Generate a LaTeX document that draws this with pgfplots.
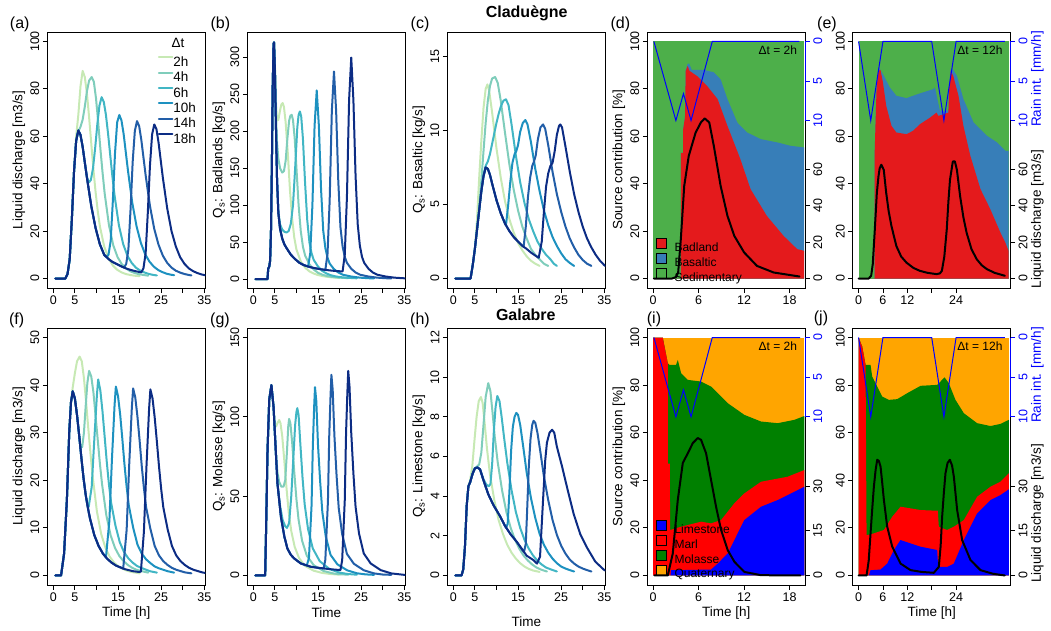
\documentclass[border=0pt]{standalone}
\usepackage{pgfplots}
\pgfplotsset{compat=1.18}
\usepackage{fontspec}
\setmainfont{Liberation Sans}
\definecolor{c2}{HTML}{C7E9B4}
\definecolor{c4}{HTML}{7FCDBB}
\definecolor{c6}{HTML}{41B6C4}
\definecolor{c10}{HTML}{1D91C0}
\definecolor{c14}{HTML}{225EA8}
\definecolor{c18}{HTML}{0C2C84}
\definecolor{cRed}{HTML}{E41A1C}
\definecolor{cBlue}{HTML}{377EB8}
\definecolor{cGreen}{HTML}{4DAF4A}
\definecolor{gBlue}{HTML}{0000FF}
\definecolor{gRed}{HTML}{FF0000}
\definecolor{gGreen}{HTML}{008000}
\definecolor{gOrange}{HTML}{FFA500}
\newcommand{\fT}{\fontsize{12.5}{14}\selectfont}
\newcommand{\fL}{\fontsize{13.5}{15}\selectfont}
\newcommand{\fD}{\fontsize{12}{14}\selectfont}
\newcommand{\fP}{\fontsize{16}{18}\selectfont}
\pgfplotsset{
  base/.style={scale only axis, width=158pt,
    axis line style={line width=0.8pt},
    tick align=outside, major tick length=4.5pt,
    every tick/.style={black, line width=0.8pt},
    tick pos=left, scaled ticks=false,
    tick label style={font=\fT},
    /pgf/number format/assume math mode=true,
    yticklabel style={rotate=90, anchor=south},
    label style={font=\fL},
    ylabel style={at={(axis description cs:-0.18,0.5)}, anchor=center},
    xlabel style={at={(axis description cs:0.5,-0.109)}, anchor=center},
  },
  toprow/.style={base, height=256pt, at={(#1,342pt)}, anchor=south west},
  botrow/.style={base, height=257pt, at={(#1,45pt)}, anchor=south west},
  hyd/.style={xmin=-1.39, xmax=35.23, xtick={0,5,...,35}, xticklabels={0,5,,15,,25,,35}},
  ln/.style={line width=2pt, line cap=round, line join=round},
  rq/.style={hide x axis, axis y line*=right, ytick pos=right, yticklabel pos=right,
    axis line style={draw=none}, yticklabel style={anchor=north}},
  rr/.style={hide x axis, axis y line*=right, ytick pos=right, yticklabel pos=right,
    axis line style={draw=none}, yticklabel style={anchor=north, blue},
    every tick/.append style={blue}, ymin=-1.2, ymax=31.2, y dir=reverse, ytick={0,5,10}, clip=false},
  sqleg/.style={reverse legend, legend cell align=left,
    legend style={at={(rel axis cs:0.055,0.009)}, anchor=south west, draw=none, fill=none, inner sep=0pt,
      font=\fD, row sep=-2.2pt, nodes={inner sep=1.75pt, text height=8.7pt, text depth=2.5pt},
      /tikz/every odd column/.append style={column sep=6pt}},
    legend image code/.code={\draw[##1, draw=black, line width=0.6pt] (0pt,-0.5pt) rectangle (10pt,9.5pt);}},
}
\begin{document}
\begin{tikzpicture}[x=1pt,y=1pt]
\useasboundingbox (0,0) rectangle (1051,630);
% titles and panel labels
\node[font=\bfseries\fP] at (526.7,616.7) {Claduègne};
\node[font=\bfseries\fP] at (525.8,315) {Galabre};
\node[font=\fP] at (19.7,605.5) {(a)};
\node[font=\fP] at (220.3,605.5) {(b)};
\node[font=\fP] at (420,605.5) {(c)};
\node[font=\fP] at (620.3,605.5) {(d)};
\node[font=\fP] at (827,605.5) {(e)};
\node[font=\fP] at (16.7,310) {(f)};
\node[font=\fP] at (220,310) {(g)};
\node[font=\fP] at (420,310) {(h)};
\node[font=\fP] at (654,311) {(i)};
\node[font=\fP] at (821,312) {(j)};
\node[font=\fL] at (178,587) {Δt};

% ---------------- (a)
\begin{axis}[toprow=47.3pt, hyd, ymin=-4, ymax=104, ytick={0,20,...,100},
  ylabel={Liquid discharge [m3/s]}, legend cell align=left,
  legend style={at={(rel axis cs:0.698,0.910)}, anchor=north west, draw=none, fill=none, inner sep=0pt,
    font=\fL, row sep=2pt, nodes={inner sep=2pt, text height=9.3pt, text depth=0pt},
    /tikz/every odd column/.append style={column sep=-2pt}},
  legend image code/.code={\draw[#1] (0pt,4.5pt) -- (13.5pt,4.5pt);}]
\addplot[c2, ln] coordinates {(0.5,0) (2.8,0) (3.3,1.9) (3.8,8.1) (4.3,25) (4.8,45) (5.3,60) (5.8,69) (6.3,81) (6.8,87.6) (7.3,85) (7.8,78) (8.3,68) (8.8,57) (9.3,46) (9.8,36.5) (10.3,28.5) (10.8,22) (11.8,13.5) (12.8,8.5) (13.8,5.5) (14.8,3.7) (15.8,2.6) (16.8,1.9) (17.8,1.5) (18.8,1.2) (20,1.0)};
\addplot[c4, ln] coordinates {(0.5,0) (2.8,0) (3.3,1.9) (3.8,8.1) (4.3,25) (4.8,45) (5.3,58.1) (5.8,62) (6.3,64) (6.8,67) (7.3,72.5) (7.8,79) (8.3,83.5) (8.9,85) (9.4,83) (9.9,76) (10.4,66) (10.9,55) (11.4,45) (11.9,36) (12.9,22.5) (13.9,14) (14.9,9) (15.9,6) (16.9,4.2) (17.9,3.0) (18.9,2.3) (19.9,1.8) (20.9,1.5) (22,1.2)};
\addplot[c6, ln] coordinates {(0.5,0) (2.8,0) (3.3,1.9) (3.8,8.1) (4.3,25) (4.8,45) (5.3,58.1) (5.8,62.5) (6.3,60.6) (6.8,55.6) (7.3,49) (7.8,43) (8.2,40.5) (8.7,41.5) (9.2,46.5) (9.7,55) (10.2,65) (10.7,73) (11.2,76.5) (11.7,74.5) (12.2,69) (12.7,61) (13.2,52) (13.7,43) (14.2,35) (15.2,22.5) (16.2,14.5) (17.2,9.5) (18.2,6.5) (19.2,4.5) (20.2,3.3) (21.2,2.5) (22.2,1.9) (23.2,1.5) (24,1.3)};
\addplot[c10, ln] coordinates {(0.5,0) (2.8,0) (3.3,1.9) (3.8,8.1) (4.3,25) (4.8,45) (5.3,58.1) (5.8,62.5) (6.3,60.6) (6.8,55.6) (7.8,42.5) (8.8,30.6) (9.8,21.3) (10.8,14.4) (11.8,10.0) (12.3,9.0) (12.8,10.1) (13.3,15.9) (13.8,32.7) (14.3,52.8) (14.8,65.9) (15.3,69) (15.8,66.7) (16.3,61) (17.3,45.6) (18.3,32) (19.3,22) (20.3,15) (21.3,10.2) (22.3,7.1) (23.3,5.0) (24.3,3.6) (25.3,2.7) (26.3,2.0) (27.3,1.6) (28,1.4)};
\addplot[c14, ln] coordinates {(0.5,0) (2.8,0) (3.3,1.9) (3.8,8.1) (4.3,25) (4.8,45) (5.3,58.1) (5.8,62.5) (6.3,60.6) (6.8,55.6) (7.8,42.5) (8.8,30.6) (9.8,21.3) (10.8,14.4) (11.8,10.0) (12.8,8.2) (13.8,6.9) (14.8,6.0) (15.8,5.1) (16.4,4.6) (16.9,6.2) (17.4,12.2) (17.9,29) (18.4,49.3) (18.9,62.3) (19.4,66.4) (19.9,64.3) (20.4,58.5) (21.4,43.6) (22.4,30.6) (23.4,20.9) (24.4,14.2) (25.4,9.6) (26.4,6.6) (27.4,4.6) (28.4,3.3) (29.4,2.5) (30.4,1.9) (31.4,1.5) (32,1.3)};
\addplot[c18, ln] coordinates {(0.5,0) (2.8,0) (3.3,1.9) (3.8,8.1) (4.3,25) (4.8,45) (5.3,58.1) (5.8,62.5) (6.3,60.6) (6.8,55.6) (7.8,42.5) (8.8,30.6) (9.8,21.3) (10.8,14.4) (11.8,10.0) (12.8,8.2) (13.8,6.9) (14.8,6.0) (15.8,5.1) (16.8,4.3) (17.8,3.7) (18.8,3.2) (19.8,2.8) (20.4,2.6) (20.9,4.4) (21.4,10.6) (21.9,27.6) (22.4,47.6) (22.9,60.8) (23.4,65) (23.9,63.1) (24.4,57.3) (25.4,42.4) (26.4,29.6) (27.4,20) (28.4,13.5) (29.4,9.0) (30.4,6.2) (31.4,4.3) (32.4,3.1) (33.4,2.3) (34.4,1.7) (35.4,1.3) (36,1.1)};
\legend{2h,4h,6h,10h,14h,18h}
\end{axis}

% ---------------- (b)
\begin{axis}[toprow=247.3pt, hyd, ymin=-12, ymax=334, ytick={0,50,...,300},
  ylabel={Q\textsubscript{s}: Badlands [kg/s]}]
\addplot[c2, ln] coordinates {(0.5,0) (3.3,0) (3.45,14) (3.7,17) (3.9,25) (4.1,65) (4.3,150) (4.5,260) (4.7,318) (4.8,320) (5.0,292) (5.25,240) (5.5,215) (5.8,215) (6.2,228) (6.5,236) (6.8,238) (7.1,233) (7.5,212) (8.0,170) (8.5,120) (9.0,82) (9.5,56) (10.0,40) (11.0,24) (12.0,15.5) (13.0,10.5) (14.0,7.5) (15.0,5.5) (16.0,4.2) (17.0,3.2) (18.0,2.5) (19.0,2) (20,1.6)};
\addplot[c4, ln] coordinates {(0.5,0) (3.3,0) (3.45,14) (3.7,17) (3.9,25) (4.1,65) (4.3,150) (4.5,260) (4.7,318) (4.8,320) (5.0,290) (5.25,225) (5.5,185) (5.8,163) (6.2,150) (6.7,144) (7.1,146) (7.5,160) (7.9,190) (8.3,214) (8.6,221) (8.9,222) (9.2,215) (9.6,190) (10.0,150) (10.5,100) (11.0,65) (11.5,44) (12.0,32) (13.0,20) (14.0,13) (15.0,8.5) (16.0,6) (17.0,4.3) (18.0,3.2) (19.0,2.5) (20.0,2.0) (22,1.3)};
\addplot[c6, ln] coordinates {(0.5,0) (3.3,0) (3.45,14) (3.7,17) (3.9,25) (4.1,65) (4.3,150) (4.5,260) (4.7,318) (4.8,320) (5.0,285) (5.25,205) (5.5,135) (5.8,92) (6.2,74) (6.7,67) (7.2,64) (7.7,63) (8.2,65) (8.7,75) (9.2,100) (9.7,150) (10.2,205) (10.5,222) (10.8,226.6) (11.1,220) (11.5,190) (12.0,130) (12.5,80) (13.0,50) (13.5,35) (14.0,26) (15.0,17) (16.0,11) (17.0,7.5) (18.0,5.2) (19.0,3.8) (20.0,2.8) (22,1.7) (24,1.1)};
\addplot[c10, ln] coordinates {(0.5,0) (3.3,0) (3.45,14) (3.7,17) (3.9,25) (4.1,65) (4.3,150) (4.5,260) (4.7,318) (4.8,320) (5.0,285) (5.25,205) (5.5,135) (5.8,90) (6.2,68) (6.7,55) (7.2,47) (7.7,42) (8.7,33) (9.7,27) (10.7,22) (11.7,19) (12.7,17) (13.2,35) (13.7,100) (14.2,207) (14.7,255) (15.2,207) (15.7,122) (16.2,66) (16.7,42) (17.2,29) (17.7,21) (18.7,13.5) (19.7,9) (20.7,6) (22.7,3.5) (24.7,2) (26.7,1.2) (28,1)};
\addplot[c14, ln] coordinates {(0.5,0) (3.3,0) (3.45,14) (3.7,17) (3.9,25) (4.1,65) (4.3,150) (4.5,260) (4.7,318) (4.8,320) (5.0,285) (5.25,205) (5.5,135) (5.8,90) (6.2,68) (6.7,55) (7.2,47) (7.7,42) (8.7,33) (9.7,27) (10.7,22) (11.7,19) (12.7,17) (13.7,15.5) (14.7,14.3) (15.7,13.3) (16.7,12.5) (17.2,34) (17.7,106) (18.2,227) (18.7,280.6) (19.2,227) (19.7,132) (20.2,70) (20.7,44) (21.2,30) (21.7,22) (22.7,14) (23.7,9) (24.7,6) (26.7,3.5) (28.7,2) (30.7,1.2) (32,1)};
\addplot[c18, ln] coordinates {(0.5,0) (3.3,0) (3.45,14) (3.7,17) (3.9,25) (4.1,65) (4.3,150) (4.5,260) (4.7,318) (4.8,320) (5.0,285) (5.25,205) (5.5,135) (5.8,90) (6.2,68) (6.7,55) (7.2,47) (7.7,42) (8.7,33) (9.7,27) (10.7,22) (11.7,19) (12.7,17) (13.7,15.5) (14.7,14.3) (15.7,13.3) (16.7,12.5) (17.7,11.8) (18.7,11.2) (19.7,10.7) (20.7,10.5) (21.2,33) (21.7,111) (22.2,242) (22.7,299.5) (23.2,242) (23.7,140) (24.2,74) (24.7,45) (25.2,30) (25.7,22) (26.7,14) (27.7,9) (28.7,6) (30.7,3.5) (32.7,2) (34.7,1.2) (36,1)};
\end{axis}

% ---------------- (c)
\begin{axis}[toprow=447.3pt, hyd, ymin=-0.64, ymax=16.64, ytick={0,5,10,15},
  ylabel={Q\textsubscript{s}: Basaltic [kg/s]}]
\addplot[c2, ln] coordinates {(0.5,0) (4.0,0) (4.5,0.9) (5.0,2.0) (5.5,4.0) (6.0,6.8) (6.5,9.3) (7.0,11.5) (7.5,12.8) (7.9,13.1) (8.3,12.7) (9.0,11.2) (10,8.8) (11,6.8) (12,5.2) (13,4.0) (14,3.1) (15,2.4) (16,1.9) (17,1.5) (18,1.2) (19,1.0) (20,0.85)};
\addplot[c4, ln] coordinates {(0.5,0) (4.0,0) (4.5,0.9) (5.0,2.0) (5.5,3.3) (6.0,4.8) (6.5,6.6) (7.0,8.6) (7.5,10.5) (8.0,12.0) (8.5,13.0) (9.0,13.5) (9.7,13.6) (10.3,13.2) (11,12.0) (12,9.8) (13,7.7) (14,6.0) (15,4.6) (16,3.5) (17,2.7) (18,2.0) (19,1.6) (20,1.3) (21,1.0) (22,0.85)};
\addplot[c6, ln] coordinates {(0.5,0) (4.0,0) (4.5,0.9) (5.0,2.0) (5.5,3.3) (6.0,4.6) (6.5,5.9) (7.0,7.0) (7.5,7.6) (8.0,7.9) (8.5,8.4) (9.0,9.1) (9.5,9.8) (10,10.5) (10.5,11.1) (11,11.6) (11.6,12.0) (12.2,12.1) (12.8,11.7) (13.5,10.4) (14.5,8.3) (15.5,6.5) (16.5,5.1) (17.5,4.0) (18.5,3.2) (19.5,2.5) (20.5,2.0) (21.5,1.6) (22.5,1.3) (23.3,1.0) (24,0.85)};
\addplot[c10, ln] coordinates {(0.5,0) (4.0,0) (4.5,0.9) (5.0,2.0) (5.5,3.3) (6.0,4.6) (6.5,5.9) (7.0,6.9) (7.5,7.5) (8.0,7.4) (8.5,7.0) (9.0,6.4) (10,5.3) (11,4.4) (12,3.7) (12.2,3.6) (12.7,4.9) (13.2,6.5) (13.7,7.8) (14.2,8.4) (14.6,8.6) (15.0,9.0) (15.5,9.9) (16.1,10.5) (16.7,10.7) (17.2,10.4) (18,9.2) (19,7.4) (20,5.9) (21,4.6) (22,3.6) (23,2.8) (24,2.2) (25,1.7) (26,1.3) (27,1.05) (28,0.85)};
\addplot[c14, ln] coordinates {(0.5,0) (4.0,0) (4.5,0.9) (5.0,2.0) (5.5,3.3) (6.0,4.6) (6.5,5.9) (7.0,6.9) (7.5,7.5) (8.0,7.4) (8.5,7.0) (9.0,6.4) (10,5.3) (11,4.4) (12,3.7) (13,3.2) (14,2.8) (15,2.5) (16,2.2) (16.3,2.15) (16.8,3.5) (17.3,5.5) (17.8,6.8) (18.3,7.6) (18.7,7.9) (19.1,8.3) (19.6,9.4) (20.2,10.2) (20.8,10.4) (21.3,10.1) (22,9) (23,7.2) (24,5.7) (25,4.5) (26,3.5) (27,2.7) (28,2.1) (29,1.6) (30,1.25) (31,1.0) (32,0.85)};
\addplot[c18, ln] coordinates {(0.5,0) (4.0,0) (4.5,0.9) (5.0,2.0) (5.5,3.3) (6.0,4.6) (6.5,5.9) (7.0,6.9) (7.5,7.5) (8.0,7.4) (8.5,7.0) (9.0,6.4) (10,5.3) (11,4.4) (12,3.7) (13,3.2) (14,2.8) (15,2.5) (16,2.2) (17,2.0) (18,1.75) (19,1.55) (19.8,1.4) (20.5,2.5) (21,4.5) (21.5,6.2) (22,7.1) (22.5,7.6) (23,7.8) (23.5,8.6) (24,9.7) (24.5,10.3) (24.8,10.4) (25.2,10.2) (26,8.9) (27,7.2) (28,5.7) (29,4.5) (30,3.5) (31,2.7) (32,2.1) (33,1.6) (34,1.2) (35,0.9) (36,0.7)};
\end{axis}

% ---------------- (d)
\begin{axis}[toprow=647.3pt, xmin=-0.77, xmax=20.07, ymin=-4, ymax=104,
  xtick={0,6,12,18}, ytick={0,20,...,100}, ylabel={Source contribution [\%]}, sqleg]
\addplot[fill=cGreen, draw=none] coordinates {(0,0) (0,100) (19.9,100) (19.9,0)} -- cycle;
\addplot[fill=cBlue, draw=none] coordinates {(0,0) (3.65,0) (3.66,53) (3.95,53) (3.96,63) (4.1,66) (4.2,68) (4.3,88) (4.55,90.5) (4.75,90.7) (5.1,88) (5.4,88) (6.7,88) (8.0,87) (8.9,84) (9.8,75.7) (11.1,65.8) (12.4,61.6) (14.2,58.8) (16.4,57.4) (18.1,56) (19.9,55.3) (19.9,0)} -- cycle;
\addplot[fill=cRed, draw=none] coordinates {(0,0) (3.65,0) (3.66,53) (3.95,53) (3.96,63) (4.1,66) (4.2,68) (4.3,87.6) (4.55,89.7) (4.8,87.6) (5.8,85.4) (7.1,81.3) (8.5,75.7) (9.8,64.4) (11.5,50.4) (12.85,37.7) (15.0,26.4) (17.2,18) (19.0,12.4) (19.9,11.7) (19.9,0)} -- cycle;
\legend{Sedimentary,Basaltic,Badland}
\node[anchor=east, font=\fD] at (rel axis cs:0.97,0.93) {Δt = 2h};
\end{axis}
\begin{axis}[toprow=647.3pt, xmin=-0.77, xmax=20.07, ymin=-5.2, ymax=135.2, rq, ytick={0,20,40,60}]
\addplot[black, ln] coordinates {(0.1,0) (2.5,0) (3.0,0.8) (3.3,3.3) (3.65,21.6) (4.1,50.8) (4.7,67.3) (5.6,80) (6.3,85.6) (6.8,87.8) (7.4,85.6) (8.0,72.8) (8.9,50.8) (9.8,34.4) (10.7,23.4) (12.0,14.3) (13.7,6.9) (15.9,3.3) (19.3,1.1)};
\end{axis}
\begin{axis}[toprow=647.3pt, xmin=-0.77, xmax=20.07, rr]
\addplot[blue, line width=1pt] coordinates {(0.1,0) (3,10) (4,6.6) (5,10) (7.8,0) (19.3,0)};
\addplot[blue, line width=0.8pt] coordinates {(20.07,0) (20.07,10)};
\end{axis}

% ---------------- (e)
\begin{axis}[toprow=852.7pt, xmin=-1.44, xmax=37.44, ymin=-4, ymax=104,
  xtick={0,6,12,18,24}, xticklabels={0,6,12,,24}, ytick={0,20,...,100}]
\addplot[fill=cGreen, draw=none] coordinates {(0,0) (0,100) (36.9,100) (36.9,0)} -- cycle;
\addplot[fill=cBlue, draw=none] coordinates {(0,0) (3.95,0) (3.96,53) (4.4,78.5) (4.8,88) (5.0,89) (6.0,86.2) (7.7,80.6) (9.3,77.1) (11.8,76.1) (13.4,77.1) (15.1,78.1) (18.4,79.9) (18.8,80.6) (19.4,75.7) (20.0,71) (20.9,70.5) (22.1,71) (22.3,82) (22.6,87.6) (23.2,88.3) (24.2,85.5) (25.8,75.7) (28.3,65.8) (31.6,60.2) (34.1,57.4) (36.1,53.9) (36.9,53.9) (36.9,0)} -- cycle;
\addplot[fill=cRed, draw=none] coordinates {(0,0) (3.95,0) (3.96,53) (4.4,78.5) (4.8,87.6) (5.4,88.0) (6.0,82.7) (6.8,72.9) (8.1,64.4) (9.3,61.6) (11.8,60.9) (13.4,62.3) (15.1,65.1) (17.6,67.9) (19.2,70) (19.6,68.6) (20.9,69.3) (22.1,70) (22.3,80) (22.7,87.6) (23.3,85.5) (24.6,77) (25.8,64.4) (27.5,51.8) (30,37.7) (32.4,29.3) (34.9,19.4) (36.1,15.2) (36.9,11.7) (36.9,0)} -- cycle;
\node[anchor=east, font=\fD] at (rel axis cs:0.97,0.93) {Δt = 12h};
\end{axis}
\begin{axis}[toprow=852.7pt, xmin=-1.44, xmax=37.44, ymin=-5.2, ymax=135.2, rq, ytick={0,20,40,60}]
\addplot[black, ln] coordinates {(0,0) (2.5,0) (3.1,1.5) (3.5,8) (3.95,25) (4.5,47) (4.9,56) (5.2,60.5) (5.6,62.4) (6.2,59.6) (6.8,47) (7.4,37) (8.1,28.7) (9.3,17.8) (10.5,12) (11.8,8.7) (13.5,5.8) (15.1,4.2) (17,3.1) (19.2,2.4) (20,2.8) (20.5,4.2) (21.1,12) (21.7,26.9) (22.1,42) (22.5,54.2) (23.2,64.2) (23.7,64.2) (24.2,59.6) (25,45) (25.8,33.5) (26.6,25) (27.8,16) (29.1,10.5) (30.3,7.3) (31.6,5.1) (33.5,3.1) (36,1.5)};
\end{axis}
\begin{axis}[toprow=852.7pt, xmin=-1.44, xmax=37.44, rr]
\addplot[blue, line width=1pt] coordinates {(0,0) (3,10) (6,0) (18,0) (21,10) (24,0) (36,0)};
\addplot[blue, line width=0.8pt] coordinates {(37.44,0) (37.44,10)};
\node[rotate=90, blue, font=\fL] at (rel axis cs:1.168,0.816) {Rain int. [mm/h]};
\node[rotate=90, font=\fL] at (rel axis cs:1.168,0.27) {Liquid discharge [m3/s]};
\end{axis}

% ---------------- (f)
\begin{axis}[botrow=47.3pt, hyd, ymin=-2, ymax=52, ytick={0,10,...,50},
  ylabel={Liquid discharge [m3/s]}, xlabel={Time [h]}]
\addplot[c2, ln] coordinates {(0.5,0) (1.8,0) (2.5,4.6) (3.15,15.9) (3.7,30.2) (4.1,36.5) (4.5,39.5) (5.0,42.5) (5.5,45) (6.1,46) (6.6,45) (7.1,41.5) (7.6,36.5) (8.1,31) (8.6,25.8) (9.1,21) (10.1,13.5) (11.1,8.7) (12.1,5.8) (13.1,3.9) (14.1,2.7) (15.1,1.9) (16.1,1.4) (17.1,1.0) (18.1,0.75) (20,0.45)};
\addplot[c4, ln] coordinates {(0.5,0) (1.8,0) (2.5,4.6) (3.15,15.9) (3.7,30.2) (4.1,36.4) (4.5,38.7) (5.0,37.2) (5.5,33.7) (6.0,29.4) (6.3,26.8) (6.7,27) (7.1,30) (7.5,35.5) (7.9,40.5) (8.3,43) (8.8,41.8) (9.3,38.5) (9.8,33.5) (10.3,28.5) (10.8,23.5) (11.3,19.2) (12.3,12.6) (13.3,8.4) (14.3,5.8) (15.3,4.1) (16.3,3.0) (17.3,2.2) (18.3,1.6) (19.3,1.2) (20.3,0.95) (22,0.6)};
\addplot[c6, ln] coordinates {(0.5,0) (1.8,0) (2.5,4.6) (3.15,15.9) (3.7,30.2) (4.1,36.4) (4.5,38.7) (5.0,37.2) (5.5,33.7) (6.0,29.4) (6.5,24.8) (7.0,20.5) (7.5,17.0) (7.8,15.3) (8.2,14.4) (8.9,18.6) (9.5,28.5) (10.1,37.8) (10.4,41.2) (10.9,38.9) (11.4,34.5) (11.9,29.2) (12.4,23.8) (12.9,19.1) (13.4,15.3) (14.4,10.5) (15.4,7.0) (16.4,4.9) (17.4,3.6) (18.4,2.7) (19.4,2.0) (20.4,1.6) (22.4,0.9) (24,0.6)};
\addplot[c10, ln] coordinates {(0.5,0) (1.8,0) (2.5,4.6) (3.15,15.9) (3.7,30.2) (4.1,36.4) (4.5,38.7) (5.0,37.2) (5.5,33.7) (6.0,29.4) (6.5,24.8) (7.0,20.5) (7.5,17.0) (8.0,14.3) (8.5,12.0) (9.5,8.5) (10.5,6.2) (11.5,4.6) (12.2,3.8) (13.0,11.5) (13.6,24.6) (14.2,35.8) (14.5,39.7) (15.0,37.7) (15.5,33.8) (16.0,28.7) (16.5,23.3) (17.0,18.6) (17.5,14.7) (18.5,10.1) (19.5,6.5) (20.5,4.6) (21.5,3.4) (22.5,2.6) (23.5,1.9) (24.5,1.5) (26.5,0.9) (28,0.6)};
\addplot[c14, ln] coordinates {(0.5,0) (1.8,0) (2.5,4.6) (3.15,15.9) (3.7,30.2) (4.1,36.4) (4.5,38.7) (5.0,37.2) (5.5,33.7) (6.0,29.4) (6.5,24.8) (7.0,20.5) (7.5,17.0) (8.0,14.3) (8.5,12.0) (9.5,8.5) (10.5,6.2) (11.5,4.6) (12.5,3.5) (13.5,2.7) (14.5,2.1) (15.5,1.7) (16.2,1.45) (17.0,9.6) (17.6,23.4) (18.2,35.2) (18.5,39.3) (19.0,37.4) (19.5,33.4) (20.0,28.4) (20.5,23.0) (21.0,18.4) (21.5,14.4) (22.5,9.8) (23.5,6.2) (24.5,4.2) (25.5,3.0) (26.5,2.2) (27.5,1.6) (28.5,1.2) (30.5,0.65) (32,0.45)};
\addplot[c18, ln] coordinates {(0.5,0) (1.8,0) (2.5,4.6) (3.15,15.9) (3.7,30.2) (4.1,36.4) (4.5,38.7) (5.0,37.2) (5.5,33.7) (6.0,29.4) (6.5,24.8) (7.0,20.5) (7.5,17.0) (8.0,14.3) (8.5,12.0) (9.5,8.5) (10.5,6.2) (11.5,4.6) (12.5,3.5) (13.5,2.7) (14.5,2.1) (16.5,1.35) (18.5,0.9) (19.8,0.75) (20.3,0.8) (21.0,9.2) (21.6,23) (22.2,35) (22.5,39.1) (23.0,37.2) (23.5,33.2) (24.0,28.2) (24.5,22.9) (25.0,18.2) (25.5,14.3) (26.5,9.7) (27.5,6.2) (28.5,4.2) (29.5,3.0) (30.5,2.2) (31.5,1.6) (32.5,1.2) (34.5,0.65) (36,0.4)};
\end{axis}

% ---------------- (g)
\begin{axis}[botrow=247.3pt, hyd, ymin=-6, ymax=156, ytick={0,50,100,150},
  ylabel={Q\textsubscript{s}: Molasse [kg/s]}, xlabel={Time}]
\addplot[c2, ln] coordinates {(0.5,0) (2.75,0) (2.95,27) (3.3,79) (3.7,111) (4.2,120) (4.7,106) (5.0,96) (5.3,94) (5.6,96) (6.0,98) (6.3,96) (6.7,88) (7.2,72) (7.7,55) (8.2,40) (8.8,28) (9.6,18) (10.6,11) (12,6) (14,3) (16,1.6) (18,0.9) (20,0.5)};
\addplot[c4, ln] coordinates {(0.5,0) (2.75,0) (2.95,27) (3.3,79) (3.7,111) (4.2,120) (4.7,106) (5.2,79) (5.6,65) (6.0,59) (6.5,56) (7.0,56) (7.4,60) (7.8,78) (8.1,94) (8.3,98.7) (8.6,96) (9.0,84) (9.5,65) (10.0,48) (10.5,35) (11.3,22) (12.4,12.5) (14,6.5) (16.3,2.8) (18.5,1.3) (20,0.8) (22,0.5)};
\addplot[c6, ln] coordinates {(0.5,0) (2.75,0) (2.95,27) (3.3,79) (3.7,111) (4.2,120) (4.7,106) (5.2,79) (5.6,58) (6.2,44) (6.8,35) (7.4,31) (7.8,30) (8.3,33) (8.8,50) (9.3,75) (9.7,95) (10.0,103) (10.2,105.5) (10.5,101) (10.9,83) (11.4,62) (11.9,45) (12.7,29) (13.8,17) (15.4,9) (17.7,4) (20,1.8) (22,0.9) (24,0.5)};
\addplot[c10, ln] coordinates {(0.5,0) (2.75,0) (2.95,27) (3.3,79) (3.7,111) (4.2,120) (4.7,106) (5.2,79) (5.6,58) (6.4,37) (7.2,24.5) (7.9,17) (8.7,13) (9.5,10.7) (11,7.6) (11.4,7.2) (12.4,6.3) (12.9,11) (13.5,44) (13.8,82) (14.1,106) (14.3,118.7) (14.6,110) (15.0,82) (15.5,59) (16.0,40) (16.8,24.5) (17.9,13) (19.5,7) (21.8,3.2) (24,1.4) (26,0.7) (28,0.4)};
\addplot[c14, ln] coordinates {(0.5,0) (2.75,0) (2.95,27) (3.3,79) (3.7,111) (4.2,120) (4.7,106) (5.2,79) (5.6,58) (6.4,37) (7.2,24.5) (7.9,17) (8.7,13) (9.5,10.7) (11,7.6) (13.3,5.5) (15.2,4.7) (16.3,4.5) (16.7,10) (17.3,47) (17.6,88) (17.9,113) (18.1,126.5) (18.4,117) (18.8,88) (19.3,63) (19.8,42.5) (20.6,26) (21.7,13.6) (23.3,7.4) (25.6,3.3) (28,1.3) (30,0.6) (32,0.4)};
\addplot[c18, ln] coordinates {(0.5,0) (2.75,0) (2.95,27) (3.3,79) (3.7,111) (4.2,120) (4.7,106) (5.2,79) (5.6,58) (6.4,37) (7.2,24.5) (7.9,17) (8.7,13) (9.5,10.7) (11,7.6) (13.3,5.5) (16.4,4.4) (18.5,3.8) (20.2,3.4) (20.6,9.7) (21.2,47.6) (21.5,90) (21.8,115) (22.0,129) (22.3,119) (22.7,90) (23.2,64.4) (23.7,43.4) (24.5,26.5) (25.6,13.9) (27.2,7.6) (29.5,3.4) (32,1.3) (35,0.4) (36,0.3)};
\end{axis}

% ---------------- (h)
\begin{axis}[botrow=447.3pt, hyd, ymin=-0.48, ymax=12.48, ytick={0,2,...,12},
  ylabel={Q\textsubscript{s}: Limestone [kg/s]}, xlabel={Time},
  xlabel style={at={(axis description cs:0.5,-0.143)}}]
\addplot[c2, ln] coordinates {(0.5,0) (1.9,0) (2.3,0.3) (2.7,1.45) (3.1,3.5) (3.5,4.5) (3.9,4.8) (4.4,5.5) (4.9,6.8) (5.4,8.0) (5.9,8.8) (6.4,9.0) (6.8,8.7) (7.3,7.6) (7.8,6.4) (8.5,5.1) (9.5,3.8) (10.5,2.8) (11.5,2.1) (12.5,1.55) (13.5,1.15) (14.5,0.85) (15.5,0.62) (16.5,0.45) (17.5,0.33) (18.5,0.25) (20,0.18)};
\addplot[c4, ln] coordinates {(0.5,0) (1.9,0) (2.3,0.3) (2.7,1.45) (3.1,3.5) (3.5,4.5) (3.9,4.7) (4.5,5.15) (5.0,5.4) (5.5,5.5) (6.0,5.6) (6.5,6.2) (7.0,7.6) (7.5,9.0) (8.1,9.7) (8.6,9.3) (9.1,8.2) (9.6,7.0) (10.3,5.7) (11.3,4.3) (12.3,3.2) (13.3,2.4) (14.3,1.8) (15.3,1.35) (16.3,1.0) (17.3,0.75) (18.3,0.55) (19.3,0.4) (20.3,0.3) (21.7,0.2)};
\addplot[c6, ln] coordinates {(0.5,0) (1.9,0) (2.3,0.3) (2.7,1.45) (3.1,3.5) (3.5,4.5) (3.9,4.7) (4.5,5.15) (5.0,5.4) (5.6,5.45) (6.2,5.35) (7.0,4.85) (7.6,4.6) (8.2,4.5) (8.6,4.6) (9.0,5.6) (9.4,7.3) (9.8,8.5) (10.2,9.05) (10.7,8.8) (11.2,8.0) (11.8,6.9) (12.5,5.7) (13.5,4.3) (14.5,3.2) (15.5,2.4) (16.5,1.8) (17.5,1.35) (18.5,1.0) (19.5,0.75) (20.5,0.55) (21.5,0.4) (22.7,0.3) (24,0.2)};
\addplot[c10, ln] coordinates {(0.5,0) (1.9,0) (2.3,0.3) (2.7,1.45) (3.1,3.5) (3.5,4.5) (3.9,4.7) (4.5,5.15) (5.0,5.4) (5.6,5.45) (6.2,5.35) (7.0,4.8) (8.1,4.1) (9.3,3.55) (10.8,3.0) (12.2,2.4) (12.6,2.6) (13.0,4.2) (13.4,6.3) (13.8,7.5) (14.2,8.0) (14.6,8.2) (15.0,8.1) (15.5,7.6) (16.2,6.5) (17.0,5.2) (18.0,3.9) (19.0,2.9) (20.0,2.1) (21.0,1.55) (22.0,1.15) (23.0,0.85) (24.0,0.62) (25.0,0.45) (26.0,0.35) (27.0,0.27) (28,0.2)};
\addplot[c14, ln] coordinates {(0.5,0) (1.9,0) (2.3,0.3) (2.7,1.45) (3.1,3.5) (3.5,4.5) (3.9,4.7) (4.5,5.15) (5.0,5.4) (5.6,5.45) (6.2,5.35) (7.0,4.8) (8.1,4.1) (9.3,3.55) (10.8,3.0) (12,2.5) (13.2,2.1) (14.7,1.7) (16,1.3) (16.4,1.2) (16.8,1.6) (17.1,3.2) (17.5,5.5) (17.9,6.9) (18.3,7.6) (18.6,7.8) (19.0,7.7) (19.5,7.2) (20.2,6.2) (21,5.0) (22,3.8) (23,2.8) (24,2.05) (25,1.5) (26,1.1) (27,0.8) (28,0.6) (29,0.45) (30,0.35) (31,0.27) (32,0.2)};
\addplot[c18, ln] coordinates {(0.5,0) (1.9,0) (2.3,0.3) (2.7,1.45) (3.1,3.5) (3.5,4.5) (3.9,4.7) (4.5,5.15) (5.0,5.4) (5.6,5.45) (6.2,5.35) (7.0,4.8) (8.1,4.1) (9.3,3.55) (10.8,3.0) (12,2.5) (13.2,2.1) (14.7,1.7) (16,1.3) (17.0,1.0) (18.6,0.77) (19.4,0.6) (20.1,0.95) (20.8,3.8) (21.3,5.8) (21.7,6.7) (22.3,7.2) (22.9,7.35) (23.4,7.2) (24,6.5) (25.2,5.5) (26.3,4.5) (27.9,3.1) (29.4,2.1) (31,1.4) (32.9,0.7) (35,0.27) (36,0.2)};
\end{axis}

% ---------------- (i)
\begin{axis}[botrow=647.3pt, xmin=-0.77, xmax=20.07, ymin=-4, ymax=104,
  xtick={0,6,12,18}, ytick={0,20,...,100}, ylabel={Source contribution [\%]}, xlabel={Time [h]}, sqleg,
  legend style={at={(rel axis cs:0.055,0.010)}}]
\addplot[fill=gOrange, draw=none] coordinates {(0,0) (0,100) (19.94,100) (19.94,0)} -- cycle;
\addplot[fill=gGreen, draw=none] coordinates {(0,0) (0,100) (1.27,100) (1.93,89.2) (2.15,88.5) (3.03,88.5) (3.25,90.6) (3.69,85.0) (4.57,82.2) (6.32,81.5) (7.64,79.4) (9.84,72.4) (12.03,67.5) (14.23,64.7) (16.43,64.0) (18.62,65.4) (19.94,67.0) (19.94,0)} -- cycle;
\addplot[fill=gRed, draw=none] coordinates {(0,0) (0,100) (1.27,100) (1.93,89.2) (1.95,47) (2.2,47) (2.24,19.1) (3.69,20.5) (6.32,22.6) (7.64,21.9) (8.96,23.3) (10.7,30.3) (12.03,34.5) (14.23,39.4) (17.74,41.5) (19.94,44.3) (19.94,0)} -- cycle;
\addplot[fill=gBlue, draw=none] coordinates {(0,0) (2.3,0) (2.35,2.2) (7.64,2.5) (8.52,5) (9.84,9.3) (11.15,17.7) (12.03,23.3) (14.23,28.9) (16.43,31.7) (18.18,34.5) (19.94,37.3) (19.94,0)} -- cycle;
\legend{Quaternary,Molasse,Marl,Limestone}
\node[anchor=east, font=\fD] at (rel axis cs:0.97,0.93) {Δt = 2h};
\end{axis}
\begin{axis}[botrow=647.3pt, xmin=-0.77, xmax=20.07, ymin=-3.2, ymax=83.2, rq, ytick={0,15,30}]
\addplot[black, ln] coordinates {(0.18,0) (1.93,0) (2.59,7.4) (3.25,25.4) (3.91,37.8) (4.57,41.1) (5.23,44.5) (5.88,46.2) (6.32,45.6) (6.98,41.1) (7.64,32.1) (8.3,23.1) (8.96,15.3) (9.84,8.5) (10.72,4.6) (12.03,1.2) (14.23,0.1) (19.41,0)};
\end{axis}
\begin{axis}[botrow=647.3pt, xmin=-0.77, xmax=20.07, rr]
\addplot[blue, line width=1pt] coordinates {(0.1,0) (3,10) (4,6.6) (5,10) (7.8,0) (19.4,0)};
\addplot[blue, line width=0.8pt] coordinates {(20.07,0) (20.07,10)};
\end{axis}

% ---------------- (j)
\begin{axis}[botrow=852.7pt, xmin=-1.44, xmax=37.44, ymin=-4, ymax=104,
  xtick={0,6,12,18,24}, xticklabels={0,6,12,,24}, ytick={0,20,...,100}, xlabel={Time [h]}]
\addplot[fill=gOrange, draw=none] coordinates {(0,0) (0,100) (36.97,100) (36.97,0)} -- cycle;
\addplot[fill=gGreen, draw=none] coordinates {(0,0) (0,100) (0.9,96.2) (1.72,88.5) (2.95,88.5) (3.36,83.6) (4.59,79.4) (5.82,75.2) (7.46,73.8) (9.51,74.1) (11.97,76.6) (15.25,79.7) (19.34,80.1) (20.16,81.5) (21.15,83.3) (22.21,80.8) (23.85,73.8) (25.9,68.2) (29.18,64.0) (32.46,62.8) (34.92,63.7) (36.97,65.4) (36.97,0)} -- cycle;
\addplot[fill=gRed, draw=none] coordinates {(0,0) (0,100) (0.9,96.2) (1.72,88.5) (1.97,17) (2.13,17) (3.77,17.7) (6.23,19.1) (8.28,24.7) (10.33,28.9) (12.79,28.2) (15.25,27.5) (19.5,27.2) (19.75,20.5) (21.8,19.1) (23.44,20.5) (25.9,23.3) (29.18,33.1) (32.46,37.3) (34.92,39.4) (36.97,42.9) (36.97,0)} -- cycle;
\addplot[fill=gBlue, draw=none] coordinates {(0,0) (2.54,0) (2.95,2.2) (5.41,2.5) (7.05,5) (8.69,10.7) (10.33,14.9) (12.79,13.5) (15.25,12.1) (19.34,10.7) (19.59,3.6) (21.8,3.6) (23.44,5) (25.9,14.9) (29.18,26.1) (32.46,31.7) (34.92,33.8) (36.97,36.2) (36.97,0)} -- cycle;
\node[anchor=east, font=\fD] at (rel axis cs:0.97,0.93) {Δt = 12h};
\end{axis}
\begin{axis}[botrow=852.7pt, xmin=-1.44, xmax=37.44, ymin=-3.2, ymax=83.2, rq, ytick={0,15,30}]
\addplot[black, ln] coordinates {(0,0) (1.97,0) (2.5,5) (2.95,14.2) (3.4,23) (3.77,29.9) (4.2,35.5) (4.59,38.9) (5.0,38.5) (5.41,36.6) (5.8,31.5) (6.23,25.4) (7.05,16.4) (8.28,9.7) (10.33,4.0) (12.79,1.8) (15.5,1.2) (18.52,0.9) (19.75,2.9) (20.2,10) (20.57,19.8) (21.0,28) (21.39,34.4) (21.9,37.8) (22.46,38.9) (23.0,37) (23.44,33.3) (24.26,22) (25.49,11.9) (27.54,5.2) (30,1.8) (33,0.6) (35.98,0)};
\end{axis}
\begin{axis}[botrow=852.7pt, xmin=-1.44, xmax=37.44, rr]
\addplot[blue, line width=1pt] coordinates {(0,0) (3,10) (6,0) (18,0) (21,10) (24,0) (36,0)};
\addplot[blue, line width=0.8pt] coordinates {(37.44,0) (37.44,10)};
\node[rotate=90, blue, font=\fL] at (rel axis cs:1.168,0.817) {Rain int. [mm/h]};
\node[rotate=90, font=\fL] at (rel axis cs:1.168,0.278) {Liquid discharge [m3/s]};
\end{axis}
\end{tikzpicture}
\end{document}
